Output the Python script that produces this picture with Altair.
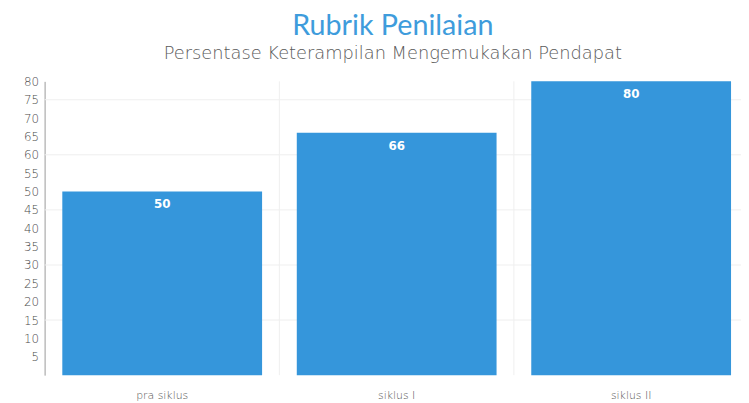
import altair as alt
import pandas as pd

categories = ["pra siklus", "siklus I", "siklus II"]
values = [50, 66, 80]
y_tick_values = [5, 10, 15, 20, 25, 30, 35, 40, 45, 50, 55, 60, 65, 70, 75, 80]
grid_values = [15, 30, 45, 60, 75]

df = pd.DataFrame({"kategori": categories, "nilai": values})
grid_df = pd.DataFrame({"nilai": grid_values})
vgrid_df = pd.DataFrame({"kategori": categories[:2]})

TITLE_FONT = "Lato"
LIGHT_FONT = "DejaVu Sans"
BAR = "#3596db"

xscale = alt.Scale(domain=categories, paddingInner=0.148, paddingOuter=0.059, align=0.64)
yscale = alt.Scale(domain=[0, 80], nice=False)

xaxis = alt.Axis(title=None, labelAngle=0, ticks=False, domain=False,
                 labelColor="#555555", labelFont=LIGHT_FONT, labelFontSize=11,
                 labelFontWeight=200, labelPadding=15, grid=False)
yaxis = alt.Axis(title=None, values=y_tick_values, ticks=False,
                 labelOverlap=False, domainColor="#9a9a9a",
                 labelColor="#4a4a4a", labelFont=LIGHT_FONT,
                 labelFontSize=12, labelFontWeight=200, labelPadding=6,
                 grid=False)

X = lambda **kw: alt.X("kategori:N", scale=xscale, sort=categories, axis=xaxis, **kw)
Y = lambda: alt.Y("nilai:Q", scale=yscale, axis=yaxis)

hgrid = alt.Chart(grid_df).mark_rule(color="#efefef", strokeWidth=1).encode(y=Y())

vgrid = alt.Chart(vgrid_df).mark_rule(color="#efefef", strokeWidth=1, xOffset=17.5).encode(
    x=X(bandPosition=1),
)

bars = alt.Chart(df).mark_bar(color=BAR).encode(x=X(), y=Y())

labels = alt.Chart(df).mark_text(color="white", fontWeight="bold", font=LIGHT_FONT,
                                 fontSize=12, dy=13).encode(
    x=X(), y=Y(), text=alt.Text("nilai:Q"),
)

chart = alt.layer(hgrid, vgrid, bars, labels).properties(
    width=704,
    height=297,
    padding={"left": 37, "top": 72, "right": 0, "bottom": 26},
    autosize=alt.AutoSizeParams(type="none"),
    title=alt.TitleParams(
        text="Rubrik Penilaian",
        subtitle="Persentase Keterampilan Mengemukakan Pendapat",
        anchor="middle",
        frame="group",
        font=TITLE_FONT,
        fontSize=29,
        fontWeight="normal",
        color="#3e9cdc",
        subtitleFont=LIGHT_FONT,
        subtitleFontSize=18,
        subtitleFontWeight=200,
        subtitleColor="#5a5a5a",
        subtitlePadding=4,
        offset=13,
    ),
).configure_view(stroke=None)

chart.save("out.html", embed_options={"renderer": "svg", "actions": False})
